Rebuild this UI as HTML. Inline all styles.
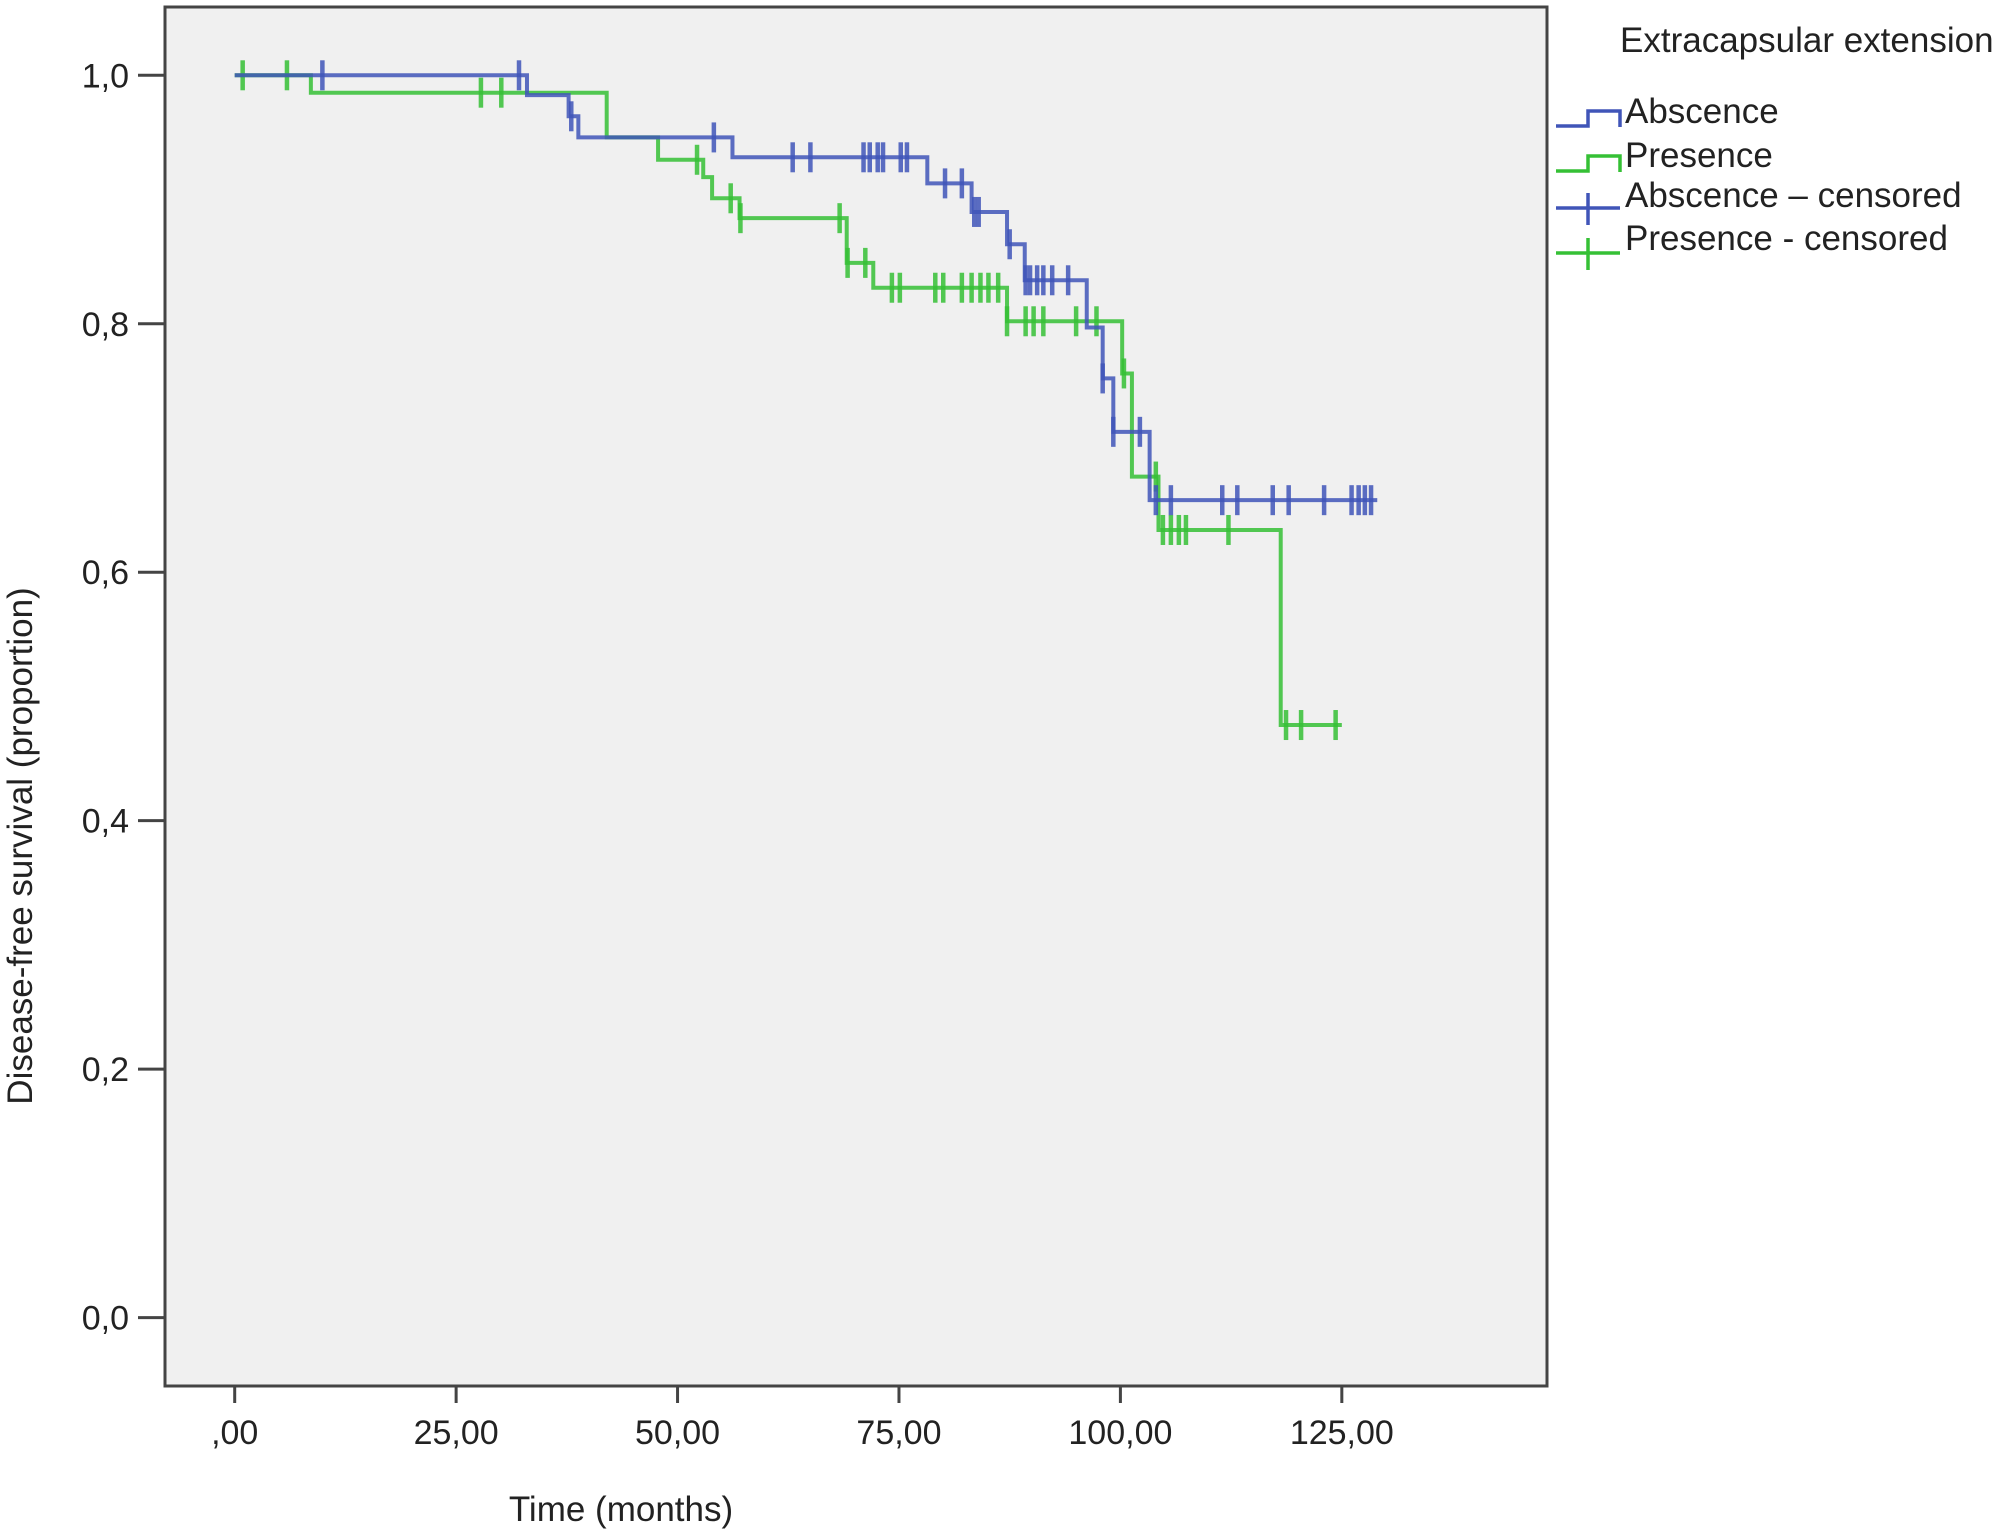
<!DOCTYPE html>
<html><head><meta charset="utf-8"><style>
html,body{margin:0;padding:0;background:#fff;}
svg{display:block;font-family:"Liberation Sans",sans-serif;}
</style></head><body>
<svg id="chart" width="2000" height="1530" viewBox="0 0 2000 1530" xmlns="http://www.w3.org/2000/svg">
<rect x="165" y="7" width="1382" height="1379" fill="#f0f0f0" stroke="#444" stroke-width="3"/>
<g id="axes"></g>
<g id="series"></g>
<text x="621" y="1521" font-size="35" text-anchor="middle" fill="#222">Time (months)</text>
<text transform="translate(32,846) rotate(-90)" font-size="35" text-anchor="middle" fill="#222">Disease-free survival (proportion)</text>
<g>
<text x="1620" y="52" font-size="35" fill="#222">Extracapsular extension</text>
<path d="M1556,126 H1588 V111 H1620 V127" fill="none" stroke="#4055b8" stroke-width="3.5"/>
<text x="1625" y="123" font-size="35" fill="#222">Abscence</text>
<path d="M1556,171 H1588 V156 H1620 V172" fill="none" stroke="#35c035" stroke-width="3.5"/>
<text x="1625" y="167" font-size="35" fill="#222">Presence</text>
<path d="M1556,208 H1620 M1588,193 V225" fill="none" stroke="#4055b8" stroke-width="3.5"/>
<text x="1625" y="207" font-size="35" fill="#222">Abscence – censored</text>
<path d="M1556,253 H1620 M1588,238 V270" fill="none" stroke="#35c035" stroke-width="3.5"/>
<text x="1625" y="250" font-size="35" fill="#222">Presence - censored</text>
</g>
</svg>
<script>
const xTicks=[0,25,50,75,100,125];
const xTickLabels=[",00","25,00","50,00","75,00","100,00","125,00"];
const yTicks=[0,0.2,0.4,0.6,0.8,1.0];
const yTickLabels=["0,0","0,2","0,4","0,6","0,8","1,0"];
// step curves: event times and survival after each step
const absenceTimes=[0,33.0,37.7,38.8,56.2,78.2,83.2,87.2,89.2,96.2,98.0,99.2,103.3];
const absenceSurv=[1.0,0.984,0.967,0.95,0.934,0.913,0.890,0.864,0.835,0.797,0.756,0.713,0.658];
const absenceEnd=129;
const absenceCensor=[9.9,32.1,38,54.1,63.0,65.0,71.0,71.7,72.6,73.2,75.2,75.9,80.2,82.1,83.5,84.0,87.5,89.3,89.8,90.6,91.3,92.3,94.1,98.0,99.2,102.2,104.0,105.7,111.5,113.2,117.2,119.0,123.0,126.1,126.9,127.6,128.3];
const presenceTimes=[0,8.6,42.0,47.8,52.9,53.9,57.0,69.1,72.1,87.2,100.2,101.3,104.3,118.1];
const presenceSurv=[1.0,0.986,0.95,0.932,0.918,0.901,0.885,0.849,0.829,0.802,0.760,0.677,0.634,0.477];
const presenceEnd=125;
const presenceCensor=[0.9,5.9,27.8,30.1,52.2,56.0,57.1,68.3,69.2,71.2,74.2,75.1,79.1,80.0,82.1,83.2,84.2,85.1,86.2,87.2,89.3,90.2,91.3,95.0,97.3,100.4,104.0,104.8,105.7,106.6,107.4,112.2,118.7,120.4,124.3];

const X=v=>234.7+v*8.857;
const Y=v=>1317.6-v*1242.3;
const NS="http://www.w3.org/2000/svg";
function mk(tag,attrs,parent){const e=document.createElementNS(NS,tag);for(const k in attrs)e.setAttribute(k,attrs[k]);parent.appendChild(e);return e;}
const axes=document.getElementById('axes');
xTicks.forEach((t,i)=>{
  const l=mk('line',{x1:X(t),x2:X(t),y1:1386,y2:1403,stroke:'#444','stroke-width':3},axes);
  
  
  const tx=mk('text',{x:X(t),y:1444,'font-size':34,'text-anchor':'middle',fill:'#222'},axes);
  
  
  tx.textContent=xTickLabels[i];
});
yTicks.forEach((t,i)=>{
  const l=mk('line',{x1:138,x2:165,y1:Y(t),y2:Y(t),stroke:'#444','stroke-width':3},axes);
  
  
  const tx=mk('text',{x:129,y:Y(t)+12,'font-size':34,'text-anchor':'end',fill:'#222'},axes);
  
  
  tx.textContent=yTickLabels[i];
});
function survAt(times,surv,t){let s=surv[0];for(let i=0;i<times.length;i++){if(times[i]<=t)s=surv[i];}return s;}
const series=document.getElementById('series');
function draw(times,surv,end,cens,color,name){
  let d='M'+X(times[0])+','+Y(surv[0]);
  for(let i=1;i<times.length;i++){d+=' H'+X(times[i])+' V'+Y(surv[i]);}
  d+=' H'+X(end);
  const p=mk('path',{d:d,fill:'none',stroke:color,'stroke-width':4,'stroke-opacity':0.85},series);
  
  
  cens.forEach(c=>{
    const y=Y(survAt(times,surv,c));
    const m=mk('path',{d:'M'+X(c)+','+(y-15)+' V'+(y+15),stroke:color,'stroke-width':4.5,'stroke-opacity':0.85},series);
    
    
  });
}
draw(presenceTimes,presenceSurv,presenceEnd,presenceCensor,'#35c035','presence');
draw(absenceTimes,absenceSurv,absenceEnd,absenceCensor,'#4055b8','absence');
</script>
</body></html>
